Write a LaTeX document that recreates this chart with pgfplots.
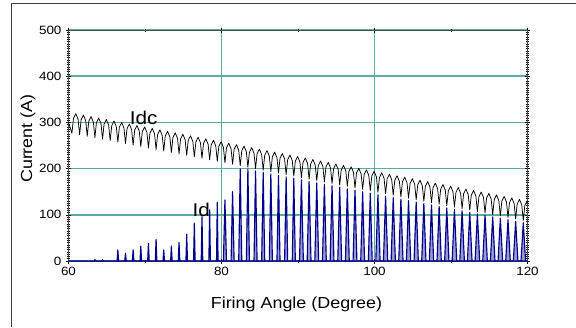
\documentclass[border=0pt]{standalone}
\usepackage{fontspec}
\setmainfont{Liberation Sans}[FakeStretch=1.12]
\usepackage{pgfplots}
\usepackage{pgfplotstable}
\pgfplotsset{compat=1.18}
\definecolor{gridteal}{RGB}{92,172,166}
\definecolor{navy}{RGB}{0,0,140}

\pgfplotstableread{
x y
60 300
60.45 276.6
60.65 308.9
60.95 319.0
61.25 307.0
61.45 273.4
61.65 305.7
61.95 315.8
62.25 303.8
62.45 270.2
62.65 302.5
62.95 312.6
63.25 300.6
63.45 267.0
63.65 299.3
63.95 309.4
64.25 297.4
64.45 263.8
64.65 296.1
64.95 306.2
65.25 294.2
65.45 260.6
65.65 292.9
65.95 303.0
66.25 291.0
66.45 257.4
66.65 289.7
66.95 299.8
67.25 287.8
67.45 254.2
67.65 286.5
67.95 296.6
68.25 284.6
68.45 251.0
68.65 283.3
68.95 293.4
69.25 281.4
69.45 247.8
69.65 280.1
69.95 290.2
70.25 278.2
70.45 244.6
70.65 276.9
70.95 287.0
71.25 275.0
71.45 241.4
71.65 273.7
71.95 283.8
72.25 271.8
72.45 238.2
72.65 270.5
72.95 280.6
73.25 268.6
73.45 235.0
73.65 267.3
73.95 277.4
74.25 265.4
74.45 231.8
74.65 264.1
74.95 274.2
75.25 262.2
75.45 228.6
75.65 260.9
75.95 271.0
76.25 259.0
76.45 225.4
76.65 257.7
76.95 267.8
77.25 255.8
77.45 222.2
77.65 254.5
77.95 264.6
78.25 252.6
78.45 219.0
78.65 251.3
78.95 261.4
79.25 249.4
79.45 215.8
79.65 248.1
79.95 258.2
80.25 246.2
80.45 212.6
80.65 244.9
80.95 255.0
81.25 243.0
81.45 209.4
81.65 241.7
81.95 251.8
82.25 239.8
82.45 206.2
82.65 238.5
82.95 248.6
83.25 236.6
83.45 203.0
83.65 235.3
83.95 245.4
84.25 233.4
84.45 199.8
84.65 232.1
84.95 242.2
85.25 230.2
85.45 196.6
85.65 228.9
85.95 239.0
86.25 227.0
86.45 193.4
86.65 225.7
86.95 235.8
87.25 223.8
87.45 190.2
87.65 222.5
87.95 232.6
88.25 220.6
88.45 187.0
88.65 219.3
88.95 229.4
89.25 217.4
89.45 183.8
89.65 216.1
89.95 226.2
90.25 214.2
90.45 180.6
90.65 212.9
90.95 223.0
91.25 211.0
91.45 177.4
91.65 209.7
91.95 219.8
92.25 207.8
92.45 174.2
92.65 206.5
92.95 216.6
93.25 204.6
93.45 171.0
93.65 203.3
93.95 213.4
94.25 201.4
94.45 167.8
94.65 200.1
94.95 210.2
95.25 198.2
95.45 164.6
95.65 196.9
95.95 207.0
96.25 195.0
96.45 161.4
96.65 193.7
96.95 203.8
97.25 191.8
97.45 158.2
97.65 190.5
97.95 200.6
98.25 188.6
98.45 155.0
98.65 187.3
98.95 197.4
99.25 185.4
99.45 151.8
99.65 184.1
99.95 194.2
100.25 182.2
100.45 148.6
100.65 180.9
100.95 191.0
101.25 179.0
101.45 145.4
101.65 177.7
101.95 187.8
102.25 175.8
102.45 142.2
102.65 174.5
102.95 184.6
103.25 172.6
103.45 139.0
103.65 171.3
103.95 181.4
104.25 169.4
104.45 135.8
104.65 168.1
104.95 178.2
105.25 166.2
105.45 132.6
105.65 164.9
105.95 175.0
106.25 163.0
106.45 129.4
106.65 161.7
106.95 171.8
107.25 159.8
107.45 126.2
107.65 158.5
107.95 168.6
108.25 156.6
108.45 123.0
108.65 155.3
108.95 165.4
109.25 153.4
109.45 119.8
109.65 152.1
109.95 162.2
110.25 150.2
110.45 116.6
110.65 148.9
110.95 159.0
111.25 147.0
111.45 113.4
111.65 145.7
111.95 155.8
112.25 143.8
112.45 110.2
112.65 142.5
112.95 152.6
113.25 140.6
113.45 107.0
113.65 139.3
113.95 149.4
114.25 137.4
114.45 103.8
114.65 136.1
114.95 146.2
115.25 134.2
115.45 100.6
115.65 132.9
115.95 143.0
116.25 131.0
116.45 97.4
116.65 129.7
116.95 139.8
117.25 127.8
117.45 94.2
117.65 126.5
117.95 136.6
118.25 124.6
118.45 91.0
118.65 123.3
118.95 133.4
119.25 121.4
119.45 87.8
119.65 120.1
119.95 130.2
120.25 118.2
}\idcdata

\pgfplotstableread{
x y
60 0
63.35 0
63.45 3
63.55 0
64.35 0
64.45 3
64.55 0
66.35 0
66.45 24
66.55 0
67.35 0
67.45 17
67.55 0
68.35 0
68.45 24
68.55 0
69.35 0
69.45 32
69.55 0
70.35 0
70.45 38
70.55 0
71.35 0
71.45 47
71.55 0
72.35 0
72.45 24
72.55 0
73.35 0
73.45 32
73.55 0
74.35 0
74.45 40
74.55 0
75.35 0
75.45 58
75.55 0
76.35 0
76.45 82
76.55 0
77.35 0
77.45 96
77.55 0
78.35 0
78.45 111
78.55 0
79.35 0
79.45 127
79.55 0
80.25 0
80.45 132
80.65 0
81.25 0
81.45 150
81.65 0
82.25 0
82.45 199
82.65 0
83.25 0
83.45 199
83.65 0
84.25 0
84.45 194.8
84.65 0
85.25 0
85.45 191.6
85.65 0
86.25 0
86.45 188.4
86.65 0
87.25 0
87.45 185.2
87.65 0
88.25 0
88.45 182
88.65 0
89.25 0
89.45 178.8
89.65 0
90.20 0
90.45 175.6
90.70 0
91.20 0
91.45 172.4
91.70 0
92.20 0
92.45 169.2
92.70 0
93.20 0
93.45 166
93.70 0
94.20 0
94.45 162.8
94.70 0
95.20 0
95.45 159.6
95.70 0
96.20 0
96.45 156.4
96.70 0
97.20 0
97.45 153.2
97.70 0
98.20 0
98.45 150
98.70 0
99.20 0
99.45 146.8
99.70 0
100.17 0
100.45 143.6
100.73 0
101.17 0
101.45 140.4
101.73 0
102.17 0
102.45 137.2
102.73 0
103.17 0
103.45 134
103.73 0
104.17 0
104.45 130.8
104.73 0
105.17 0
105.45 127.6
105.73 0
106.17 0
106.45 124.4
106.73 0
107.17 0
107.45 121.2
107.73 0
108.17 0
108.45 118
108.73 0
109.17 0
109.45 114.8
109.73 0
110.15 0
110.45 111.6
110.75 0
111.15 0
111.45 108.4
111.75 0
112.15 0
112.45 105.2
112.75 0
113.15 0
113.45 102
113.75 0
114.15 0
114.45 98.8
114.75 0
115.15 0
115.45 95.6
115.75 0
116.15 0
116.45 92.4
116.75 0
117.15 0
117.45 89.2
117.75 0
118.15 0
118.45 86
118.75 0
119.15 0
119.45 82.8
119.75 0
120 0
}\iddata

\begin{document}
\begin{tikzpicture}
\useasboundingbox (-68.5pt,-66pt) rectangle (507.5pt,261pt);
\begin{axis}[
  at={(0pt,0pt)}, anchor=south west,
  scale only axis, width=459pt, height=231pt,
  xmin=60, xmax=120, ymin=0, ymax=500,
  xtick={60,80,100,120}, ytick={0,100,200,300,400,500},
  minor x tick num=1, minor y tick num=19,
  grid=major,
  major grid style={gridteal, line width=1.6pt},
  tick align=center,
  major tick length=5pt, minor tick length=3pt,
  tick style={black, line width=0.5pt},
  axis line style={black!70, line width=0.7pt},
  ticklabel style={font=\fontsize{12}{12}\selectfont},
  /pgf/number format/assume math mode=true,
  yticklabel style={xshift=-1pt},
  xlabel={Firing Angle (Degree)},
  ylabel={Current (A)},
  xlabel style={at={(axis description cs:0.4967,-0.2035)}, anchor=base, font=\fontsize{16}{16}\selectfont},
  ylabel style={at={(axis description cs:-0.0882,0.53)}, anchor=center, font=\fontsize{16}{16}\selectfont},
  clip=true,
]
\addplot[draw=navy, fill=navy!40, line width=1.15pt, line join=round] table[x=x,y=y] {\iddata} \closedcycle;
\addplot[black, line width=0.75pt, line join=round] table[x=x,y=y] {\idcdata};
\node[anchor=base west, inner sep=0pt, font=\fontsize{18.5}{18.5}\selectfont] at (axis cs:68.0,296) {Idc};
\node[anchor=base west, inner sep=0pt, font=\fontsize{18.5}{18.5}\selectfont] at (axis cs:76.2,97) {Id};
\end{axis}
\draw[black!75, line width=0.8pt] (-57.5pt,-66pt) -- (-57.5pt,257.5pt) -- (507.5pt,257.5pt);
\end{tikzpicture}
\end{document}
